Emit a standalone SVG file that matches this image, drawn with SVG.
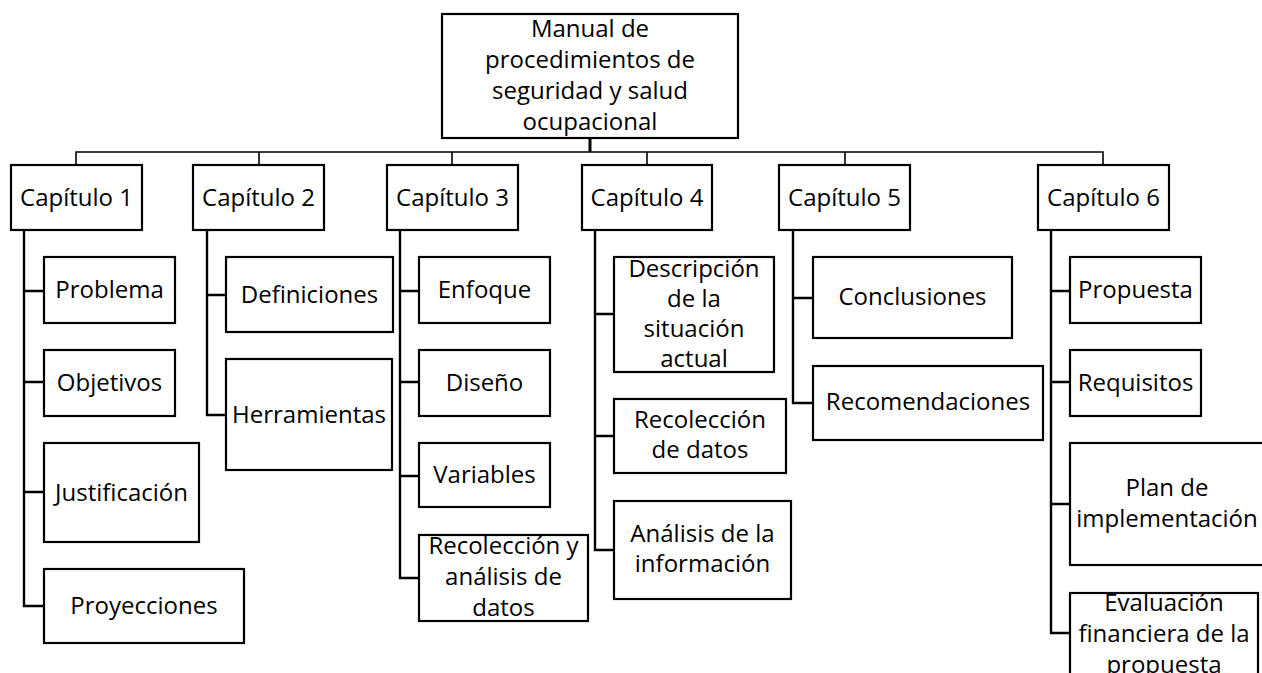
<svg xmlns="http://www.w3.org/2000/svg" width="1262" height="673" viewBox="0 0 1262 673">
<style>
rect{fill:#fff;stroke:#000;stroke-width:2.2}
text{font-family:"Open Sans","Noto Sans",sans-serif;font-size:24px;fill:#000;text-anchor:middle}
.bus{fill:none;stroke:#000;stroke-width:1.6}
.stem{fill:none;stroke:#000;stroke-width:3}
.br{fill:none;stroke:#000;stroke-width:2.4}
</style>
<rect x="0" y="0" width="1262" height="673" style="fill:#fff;stroke:none"/>
<g id="connectors">
<path class="stem" d="M590 138V152"/>
<path class="bus" d="M76 165V152H1103V165M259 152V165M452 152V165M647 152V165M845 152V165"/>
<path class="br" d="M24 230V606H44M24 291H44M24 382H44M24 492H44"/>
<path class="br" d="M207 230V415H226M207 295H226"/>
<path class="br" d="M400 230V578H419M400 291H419M400 382H419M400 476H419"/>
<path class="br" d="M595 230V550H614M595 314H614M595 436H614"/>
<path class="br" d="M793 230V403H813M793 298H813"/>
<path class="br" d="M1051 230V633H1070M1051 291H1070M1051 382H1070M1051 504H1070"/>
</g>
<g id="root"><rect x="442" y="14" width="296" height="124"/><text x="590" y="37">Manual de</text><text x="590" y="68">procedimientos de</text><text x="590" y="99">seguridad y salud</text><text x="590" y="130">ocupacional</text></g>
<g id="cap1"><rect x="11" y="165" width="131" height="65"/><text x="76.5" y="206">Capítulo 1</text></g>
<g id="cap2"><rect x="193" y="165" width="131" height="65"/><text x="258.5" y="206">Capítulo 2</text></g>
<g id="cap3"><rect x="387" y="165" width="131" height="65"/><text x="452.5" y="206">Capítulo 3</text></g>
<g id="cap4"><rect x="582" y="165" width="130" height="65"/><text x="647" y="206">Capítulo 4</text></g>
<g id="cap5"><rect x="779" y="165" width="131" height="65"/><text x="844.5" y="206">Capítulo 5</text></g>
<g id="cap6"><rect x="1038" y="165" width="131" height="65"/><text x="1103.5" y="206">Capítulo 6</text></g>
<g id="problema"><rect x="44" y="257" width="131" height="66"/><text x="109.5" y="298">Problema</text></g>
<g id="objetivos"><rect x="44" y="350" width="131" height="66"/><text x="109.5" y="391">Objetivos</text></g>
<g id="justificacion"><rect x="44" y="443" width="155" height="99"/><text x="121.5" y="501">Justificación</text></g>
<g id="proyecciones"><rect x="44" y="569" width="200" height="74"/><text x="144" y="614">Proyecciones</text></g>
<g id="definiciones"><rect x="226" y="257" width="167" height="75"/><text x="309.5" y="303">Definiciones</text></g>
<g id="herramientas"><rect x="226" y="359" width="166" height="111"/><text x="309" y="423">Herramientas</text></g>
<g id="enfoque"><rect x="419" y="257" width="131" height="66"/><text x="484.5" y="298">Enfoque</text></g>
<g id="diseno"><rect x="419" y="350" width="131" height="66"/><text x="484.5" y="391">Diseño</text></g>
<g id="variables"><rect x="419" y="443" width="131" height="64"/><text x="484.5" y="483">Variables</text></g>
<g id="recoleccion-analisis"><rect x="419" y="535" width="169" height="86"/><text x="503.5" y="554">Recolección y</text><text x="503.5" y="585">análisis de</text><text x="503.5" y="616">datos</text></g>
<g id="descripcion"><rect x="614" y="257" width="160" height="115"/><text x="694" y="277">Descripción</text><text x="694" y="307">de la</text><text x="694" y="337">situación</text><text x="694" y="367">actual</text></g>
<g id="recoleccion-datos"><rect x="614" y="399" width="172" height="74"/><text x="700" y="428">Recolección</text><text x="700" y="458">de datos</text></g>
<g id="analisis"><rect x="614" y="501" width="177" height="98"/><text x="702.5" y="542">Análisis de la</text><text x="702.5" y="572">información</text></g>
<g id="conclusiones"><rect x="813" y="257" width="199" height="81"/><text x="912.5" y="305">Conclusiones</text></g>
<g id="recomendaciones"><rect x="813" y="366" width="230" height="74"/><text x="928" y="410">Recomendaciones</text></g>
<g id="propuesta"><rect x="1070" y="257" width="131" height="66"/><text x="1135.5" y="298">Propuesta</text></g>
<g id="requisitos"><rect x="1070" y="350" width="131" height="66"/><text x="1135.5" y="391">Requisitos</text></g>
<g id="plan"><rect x="1070" y="443" width="194" height="122"/><text x="1167" y="496">Plan de</text><text x="1167" y="527">implementación</text></g>
<g id="evaluacion"><rect x="1070" y="593" width="188" height="100"/><text x="1164" y="611">Evaluación</text><text x="1164" y="642">financiera de la</text><text x="1164" y="673">propuesta</text></g>
</svg>
